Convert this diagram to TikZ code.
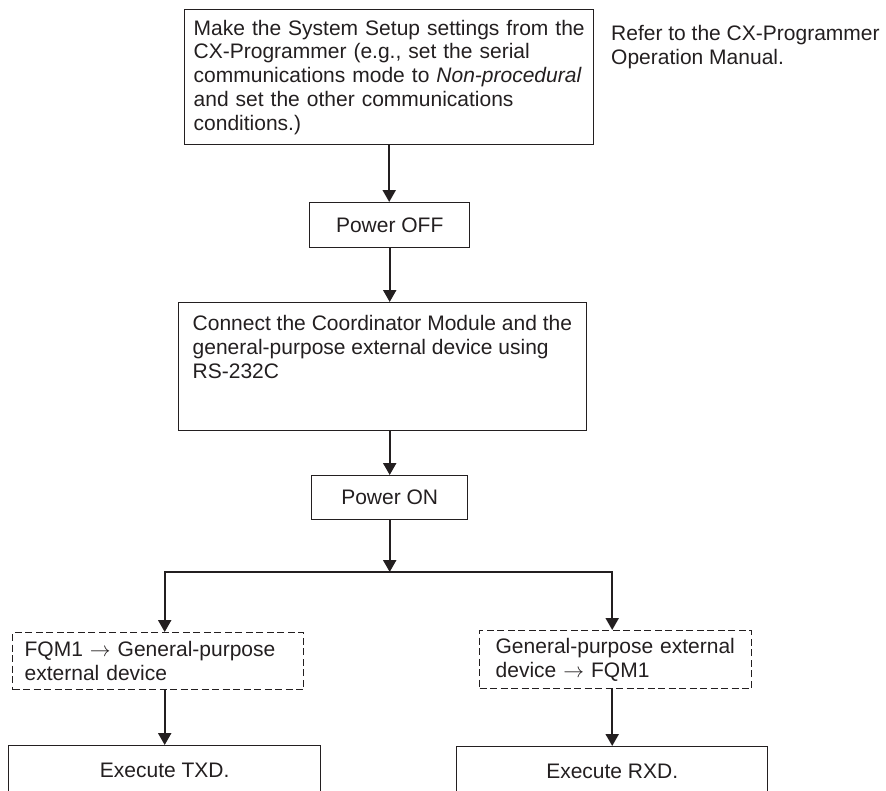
\documentclass[tikz,border=0pt]{standalone}
\usepackage{fontspec}
\setmainfont{Liberation Sans}
\usepackage{tikz}
\usetikzlibrary{arrows.meta, positioning}
\definecolor{inkdark}{RGB}{35, 31, 32}

\begin{document}
\begin{tikzpicture}[x=1pt, y=-1pt,
  every node/.style={font=\fontsize{21}{23.7}\selectfont, text=inkdark},
  stepbox/.style={draw=inkdark, line width=1.4pt, anchor=north west,
                  align=left, inner ysep=0pt},
  choicebox/.style={stepbox, dash pattern=on 7pt off 3.5pt, line width=1.3pt},
  flow/.style={draw=inkdark, line width=2.2pt},
  flowarrow/.style={flow, -{Triangle[length=12pt, width=13pt]}},
  fork/.style={flow, {Triangle[length=12pt, width=13pt]}-{Triangle[length=12pt, width=13pt]}}]
  \useasboundingbox (0,0) rectangle (886,790);
  \clip (0,0) rectangle (886,790);

  %--- setup and power off ---
  \node[stepbox, text width=391pt, inner xsep=9pt, minimum height=135pt]
    (setup) at (184,9)
    {Make the System Setup settings from the\\
     CX-Programmer (e.g., set the serial\\
     communications mode to \textit{Non-procedural}\\
     and set the other communications\\
     conditions.)};
  \node[anchor=north west, inner sep=0pt, align=left] (manual) at (611,25)
    {Refer to the CX-Programmer\\ Operation Manual.};
  \node[stepbox, minimum width=160pt, minimum height=45pt] (off) at (309,202)
    {Power OFF};

  %--- cable and power on ---
  \node[stepbox, inner sep=0pt] (connect) at (178,302)
    {\parbox[t][128pt][t]{408pt}{\leftskip=14pt\rightskip=0pt plus 1fil
     \rule{0pt}{28pt}Connect the Coordinator Module and the\\
     general-purpose external device using\\
     RS-232C}};
  \node[stepbox, minimum width=156pt, minimum height=44pt] (on) at (311,475)
    {Power ON};

  %--- the two directions ---
  \node[choicebox, text width=267pt, inner xsep=12pt, minimum height=57pt]
    (fqmout) at (12,632)
    {FQM1 $\rightarrow$ General-purpose\\ external device};
  \node[choicebox, text width=240pt, inner xsep=16pt, minimum height=58pt]
    (fqmin) at (479,630)
    {General-purpose external\\ device $\rightarrow$ FQM1};
  \node[stepbox, minimum width=312pt, minimum height=50pt] (txd) at (8,745)
    {Execute TXD.};
  \node[stepbox, minimum width=311pt, minimum height=50pt] (rxd) at (456,746)
    {Execute RXD.};

  %--- connectors ---
  \coordinate (split) at (on.south |- 0,572);
  \draw[flowarrow] (setup.south) -- (setup.south |- off.north);
  \draw[flowarrow] (off.south) -- (off.south |- connect.north);
  \draw[flowarrow] (on.north |- connect.south) -- (on.north);
  \draw[flowarrow] (on.south) -- (split);
  \draw[fork] (txd.north |- fqmout.north) |- (split) -| (rxd.north |- fqmin.north);
  \draw[flowarrow] (txd.north |- fqmout.south) -- (txd.north);
  \draw[flowarrow] (rxd.north |- fqmin.south) -- (rxd.north);
\end{tikzpicture}
\end{document}
